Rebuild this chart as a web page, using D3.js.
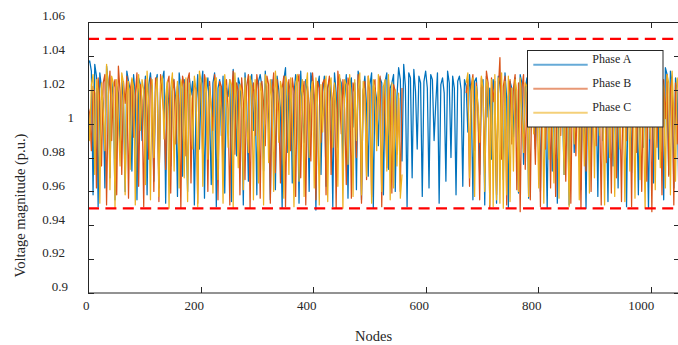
<!DOCTYPE html>
<html><head><meta charset="utf-8">
<script src="https://cdn.jsdelivr.net/npm/d3@7/dist/d3.min.js"></script>
<style>
body{margin:0;background:#fff}
svg{display:block}
text{font-family:"Liberation Serif","Times New Roman",serif;fill:#262626}
</style>
</head><body>
<svg id="chart" width="678" height="345"></svg>
<script>
// ---------- data ----------
const seriesNames = ["Phase A", "Phase B", "Phase C"];
const xTicks = [0, 200, 400, 600, 800, 1000];
const xTickLabels = ["0", "200", "400", "600", "800", "1000"];
const yTicks = [0.9, 0.92, 0.94, 0.96, 0.98, 1.0, 1.02, 1.04, 1.06];
const yTickLabels = ["0.9", "0.92", "0.94", "0.96", "0.98", "1", "1.02", "1.04", "1.06"];
const voltageLimits = [0.95, 1.05];
const nodeStep = 3;   // one sample every 3 nodes
const _ = null;       // phase not present at that node

const phaseA = [
1.036,1.037,1.031,.958,1.035,1.028,.951,1.03,1.021,1.012,.962,1.034,1.024,.968,1.026,1.015,.955,1.022,1.018,.983,
1.026,1.012,.96,1.031,1.025,1.02,.972,1.029,1.016,.955,1.027,1.023,.99,1.012,1.028,.958,1.023,1.03,1.017,.966,
1.024,1.029,.962,1.019,1.026,1.031,.953,1.022,1.01,.975,1.027,1.024,1.014,.957,1.03,1.021,.969,1.026,1.003,.96,
1.028,1.017,1.025,.952,1.011,1.029,.985,1.022,1.031,.956,1.018,1.027,1.006,.964,1.024,1.03,.951,1.021,1.026,.993,
1.028,.959,1.021,1.016,1.026,.954,1.032,1.019,.981,1.027,1.023,1.008,.952,1.03,1.012,.966,1.025,1.029,.996,1.02,
.958,1.025,1.029,1.022,.972,1.031,1.015,1.004,.955,1.026,1.018,.961,1.028,1.02,1.009,.95,1.026,1.033,.983,1.02,
1.024,.965,1.017,1.029,1.022,.953,1.031,1.008,.989,1.026,1.019,.96,1.03,1.023,1.011,.949,1.022,1.028,.97,1.019,
1.028,.963,1.021,1.026,1.013,.951,1.03,1.018,.986,1.027,1.024,.975,1.015,1.029,.956,1.022,1.027,.998,1.024,.961,
1.031,1.025,.955,1.019,1.028,1.01,.969,1.023,1.03,.95,1.021,1.014,.987,1.027,1.024,.958,1.025,1.03,.973,1.021,
1.024,1.029,.96,1.016,1.033,1.026,.978,1.035,1.022,.951,1.03,1.027,.968,1.032,1.019,.985,1.028,1.024,.957,1.025,
1.031,1.021,.962,1.029,1.026,.99,1.012,1.03,.953,1.023,1.027,1.018,.966,1.031,1.024,.98,1.028,1.021,.958,1.025,
1.028,1.02,.963,1.026,1.022,.995,1.029,1.017,.955,1.025,1.027,1.009,.97,1.021,1.026,.952,1.028,1.004,1.021,.979,
1.026,1.018,.953,1.028,1.023,1.01,.967,1.03,1.015,.95,1.025,1.021,.992,1.027,1.006,.959,1.029,1.024,.976,1.021,
1.027,.956,1.022,1.031,1.013,.985,1.026,1.019,.96,1.028,1.024,1.002,.95,1.03,1.02,.972,1.027,1.024,.953,1.02,
1.025,1.011,.97,1.029,1.017,.952,1.031,1.023,.983,1.028,1.021,1.005,.961,1.026,1.014,.95,1.023,1.028,.977,1.026,
1.03,1.019,.957,1.027,1.024,.99,1.032,1.008,.954,1.024,1.028,.975,1.018,1.022,.962,1.029,1.012,.997,1.028,.951,
1.025,1.031,.971,1.02,1.027,1.015,.958,1.023,1.03,.986,1.026,1.004,.95,1.028,1.023,.965,1.034,1.026,.979,1.028,
1.01,.955,1.033,1.029,.97,1.031,1.024,.962,1.027,1.018,.957
];

const phaseB = [
1.01,1.006,.984,1.022,1.018,.962,1.027,1.013,.975,1.024,1.029,.952,1.016,1.031,.99,1.021,1.026,.958,1.034,1.019,
.97,1.025,1.012,1.028,.956,1.02,1.026,.992,1.017,1.03,.963,1.023,1.014,.951,1.026,1.009,.979,1.027,1.022,.96,
1.027,1.021,.954,1.029,1.016,1.005,.973,1.024,1.028,.959,1.019,1.026,.988,1.022,1.011,.95,1.028,1.023,.981,1.026,
1.03,.965,1.015,1.024,1.02,.953,1.027,1.018,.977,1.029,1.023,.96,1.025,1.01,.996,1.029,1.018,.955,1.025,1.022,
.969,1.021,1.026,1.008,.952,1.017,1.031,.982,1.024,1.019,.958,1.027,1.013,.967,1.022,1.029,.95,1.016,1.024,.993,
1.029,1.02,.956,1.025,1.012,.987,1.028,1.023,.953,1.018,1.03,.971,1.026,1.007,.965,1.021,1.028,.951,1.014,1.026,
.984,1.027,1.019,.957,1.024,1.029,.968,1.016,1.025,.952,1.022,1.011,.978,1.03,1.017,.955,1.025,1.021,.989,1.024,
1.026,.958,1.021,1.028,.97,1.015,1.023,.95,1.031,1.019,.994,1.026,1.009,.964,1.027,1.022,.956,1.024,1.018,.98,
1.029,1.012,.953,1.02,1.025,.967,1.028,1.017,.957,1.022,1.026,.991,1.018,1.028,.951,1.022,1.006,.974,1.026,1.01,
.959,1.023,1.019,.982,1.015,.96,1.021,_,_,_,_,_,_,_,_,_,_,_,_,_,
_,_,_,_,_,_,_,_,_,_,_,_,_,_,_,_,_,_,_,_,
_,_,_,_,1.018,1.026,.963,1.022,1.029,.984,1.024,1.007,.955,1.027,1.02,.971,1.031,1.024,.95,1.027,
1.013,1.025,.958,1.019,1.039,.979,1.022,1.028,.952,1.016,1.026,.988,1.021,1.029,.961,1.024,.948,1.021,1.029,.973,
1.018,1.024,.955,1.03,1.009,.976,1.027,1.02,.951,1.023,1.028,.985,1.015,1.025,.962,1.028,1.019,.957,1.025,1.021,
.993,1.029,1.017,.966,1.026,1.022,.953,1.028,1.011,.981,1.024,1.019,.95,1.028,1.022,.972,1.03,1.024,.96,1.019,
1.026,.987,1.023,1.008,.952,1.027,1.018,.977,1.025,1.013,.959,1.029,1.021,.968,1.026,1.016,.954,1.028,1.004,.99,
1.028,1.022,.951,1.03,1.019,.983,1.027,1.009,.96,1.024,1.02,.966,1.032,1.025,.948,1.025,1.018,.986,1.027,1.022,
.958,1.026,1.003,1.029,.969,1.021,1.027,.952,1.024,.988,1.015
];

const phaseC = [
1.015,.99,1.023,1.029,.97,1.026,1.019,.953,1.024,1.008,.984,1.035,1.021,.961,1.028,1.024,.95,1.026,1.001,.975,
1.03,1.024,.958,1.017,1.025,.973,1.027,1.022,.952,1.014,1.029,.996,1.026,1.02,.964,1.031,1.01,.955,1.026,.98,
1.019,1.027,.957,1.023,1.028,.991,1.016,1.025,.95,1.021,1.03,.972,1.012,1.025,.962,1.026,1.021,.968,1.027,.954,
1.024,1.015,.985,1.028,1.02,.951,1.031,1.025,.963,1.018,1.027,.979,1.022,1.009,.959,1.025,1.027,.967,1.022,1.004,
.953,1.029,1.016,.986,1.026,1.023,.95,1.03,1.011,.974,1.023,1.019,.961,1.027,1.002,.983,1.028,1.021,.955,1.026,
1.007,.965,1.024,1.018,.952,1.029,1.022,.977,1.026,1.013,.96,1.031,1.017,.989,1.025,1.02,.956,1.028,1.024,.97,
1.027,1.005,.951,1.023,1.029,.966,1.016,1.026,.957,1.021,1.03,.98,1.018,1.025,.962,1.027,1.01,.952,1.023,.995,
1.019,1.028,.954,1.022,1.027,.986,1.024,1.008,.963,1.029,1.016,.95,1.026,1.023,.976,1.029,1.012,.957,1.026,.99,
1.02,1.03,.958,1.025,1.015,.969,1.028,1.021,.953,1.026,1.018,.984,1.029,1.006,.96,1.022,1.026,.972,1.029,.955,
1.024,.962,1.02,.975,1.018,.956,.97,_,_,_,_,_,_,_,_,_,_,_,_,_,
_,_,_,_,_,_,_,_,_,_,_,_,_,_,_,_,_,_,_,_,
_,_,_,_,1.024,1.03,.968,1.019,1.027,.957,1.022,1.011,.989,1.028,1.021,.96,1.026,1.021,.952,1.026,
.951,1.029,.955,1.027,.953,1.03,.95,1.025,.958,1.028,.954,1.021,.972,1.026,1.019,.96,1.027,1.005,.983,1.024,
1.022,.957,1.029,1.016,.994,1.025,1.009,.962,1.028,1.02,.953,1.023,1.027,.979,1.018,1.002,.965,1.027,1.018,.956,
1.026,1.021,.97,1.029,1.007,.951,1.024,1.017,.988,1.03,1.022,.955,1.027,1.012,.975,1.025,1.022,.959,1.028,1.019,
.968,1.028,1.023,.993,1.026,1.004,.952,1.031,1.018,.98,1.024,1.01,.957,1.029,1.021,.985,1.024,1.013,.954,1.027,
1.02,.972,1.03,1.013,.956,1.025,1.019,.967,1.028,1.001,.95,1.034,1.022,.991,1.026,1.019,.961,1.028,1.022,.974,
1.026,1.021,.962,1.029,1.024,.958,1.031,1.006,.966,1.027,1.019
];

// ---------- layout ----------
const L = 88, R = 680, T = 22, B = 293;
const colors = ["#0072BD", "#D95319", "#EDB120"];
const axisColor = "#262626";

const svg = d3.select("#chart");
const x = d3.scaleLinear().domain([0, 1052]).range([L, R]);
const y = d3.scaleLinear().domain([0.9, 1.06]).range([B, T]);

const nodes = phaseA.map((_, i) => i * nodeStep);

svg.append("clipPath").attr("id", "clip")
  .append("rect").attr("x", L).attr("y", T).attr("width", R - L).attr("height", B - T);

const plot = svg.append("g").attr("clip-path", "url(#clip)");

const line = d3.line()
  .defined(d => d[1] !== null)
  .x(d => x(d[0]))
  .y(d => y(d[1]));

[phaseA, phaseB, phaseC].forEach((vals, k) => {
  plot.append("path")
    .datum(vals.map((v, i) => [nodes[i], v]))
    .attr("fill", "none")
    .attr("stroke", colors[k])
    .attr("stroke-width", 1.25)
    .attr("stroke-linejoin", "round")
    .attr("d", line);
});

// limit lines
voltageLimits.forEach(v => {
  plot.append("line")
    .attr("x1", L).attr("x2", R)
    .attr("y1", y(v)).attr("y2", y(v))
    .attr("stroke", "#FF0000")
    .attr("stroke-width", 2.2)
    .attr("stroke-dasharray", "11,6.4");
});

// axes box
const ax = svg.append("g").attr("stroke", axisColor).attr("stroke-width", 1).attr("fill", "none");
ax.append("rect").attr("x", L + 0.5).attr("y", T + 0.5).attr("width", R - L).attr("height", B - T - 0.5);

const tickLen = 6;
xTicks.forEach(t => {
  const px = Math.round(x(t)) + 0.5;
  ax.append("line").attr("x1", px).attr("x2", px).attr("y1", B).attr("y2", B - tickLen);
  ax.append("line").attr("x1", px).attr("x2", px).attr("y1", T).attr("y2", T + tickLen);
});
yTicks.forEach(t => {
  const py = Math.round(y(t)) + 0.5;
  ax.append("line").attr("x1", L).attr("x2", L + tickLen).attr("y1", py).attr("y2", py);
  ax.append("line").attr("x1", R).attr("x2", R - tickLen).attr("y1", py).attr("y2", py);
});

// tick labels
xTicks.forEach((t, i) => {
  const lab = xTickLabels[i];
  svg.append("text")
    .attr("x", x(t) + 3.4 - (lab.length === 1 ? 2 : 0))
    .attr("y", 310)
    .attr("text-anchor", "end")
    .attr("font-size", 13)
    .text(lab);
});
yTicks.forEach((t, i) => {
  const lab = yTickLabels[i];
  svg.append("text")
    .attr("x", 65 + (4 - lab.length) * 3)
    .attr("y", y(t) - 1.7)
    .attr("text-anchor", "end")
    .attr("font-size", 13)
    .text(lab);
});

// axis titles
svg.append("text")
  .attr("x", 373.5).attr("y", 340.5)
  .attr("text-anchor", "middle")
  .attr("font-size", 14.5)
  .text("Nodes");
svg.append("text")
  .attr("transform", "translate(25,205.5) rotate(-90)")
  .attr("text-anchor", "middle")
  .attr("font-size", 14.5)
  .text("Voltage magnitude (p.u.)");

// legend
const lg = svg.append("g");
lg.append("rect")
  .attr("x", 527.5).attr("y", 50.5).attr("width", 135.5).attr("height", 76.5)
  .attr("fill", "#fff").attr("stroke", axisColor).attr("stroke-width", 1);
seriesNames.forEach((name, k) => {
  const ly = 64.7 + k * 24;
  lg.append("line")
    .attr("x1", 533.3).attr("x2", 587.7)
    .attr("y1", ly).attr("y2", ly)
    .attr("stroke", colors[k]).attr("stroke-width", 2).attr("stroke-opacity", 0.6);
  lg.append("text")
    .attr("x", 592.3).attr("y", ly - 1.3)
    .attr("font-size", 12)
    .text(name);
});
</script>
</body></html>
